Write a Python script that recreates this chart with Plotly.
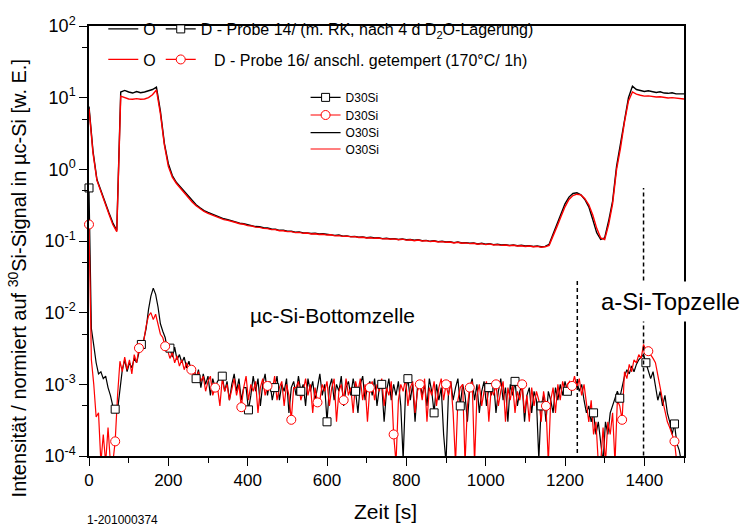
import plotly.graph_objects as go

# SIMS depth profiles: time axis (s)
t_o = list(range(0, 1501, 10))
t_d = list(range(0, 1501, 6))

# O30Si signal, Probe 14 (black) and Probe 16 (red)
o_black = [
    7.5, 1.8, 0.72, 0.5, 0.34, 0.25, 0.18, 0.14, 12.0, 12.6,
    12.0, 11.6, 12.2, 11.7, 12.0, 12.4, 13.0, 14.0, 6.5, 2.3,
    1.2, 0.82, 0.66, 0.57, 0.49, 0.42, 0.36, 0.32, 0.29, 0.265,
    0.25, 0.237, 0.224, 0.216, 0.204, 0.199, 0.19, 0.185, 0.177, 0.174,
    0.168, 0.165, 0.159, 0.158, 0.153, 0.152, 0.147, 0.146, 0.141, 0.141,
    0.137, 0.137, 0.133, 0.134, 0.13, 0.13, 0.127, 0.128, 0.125, 0.126,
    0.123, 0.123, 0.12, 0.121, 0.117, 0.118, 0.115, 0.116, 0.113, 0.114,
    0.111, 0.113, 0.11, 0.111, 0.108, 0.109, 0.107, 0.108, 0.105, 0.107,
    0.104, 0.105, 0.103, 0.104, 0.101, 0.102, 0.099, 0.101, 0.098, 0.099,
    0.097, 0.098, 0.095, 0.097, 0.094, 0.095, 0.093, 0.094, 0.091, 0.093,
    0.09, 0.092, 0.089, 0.09, 0.088, 0.089, 0.087, 0.088, 0.086, 0.087,
    0.085, 0.086, 0.084, 0.085, 0.083, 0.084, 0.09, 0.125, 0.17, 0.24,
    0.33, 0.41, 0.46, 0.47, 0.44, 0.38, 0.3, 0.2, 0.13, 0.105,
    0.11, 0.19, 0.36, 1.1, 2.2, 5.0, 10.0, 14.5, 13.0, 12.6,
    12.2, 12.5, 12.0, 11.8, 12.1, 11.6, 11.5, 11.7, 11.3, 11.4,
    11.3,
]
o_red = [
    7.0, 1.7, 0.7, 0.48, 0.33, 0.24, 0.17, 0.135, 10.5, 10.0,
    9.6, 9.5, 9.7, 9.5, 9.6, 10.0, 11.0, 12.8, 6.0, 2.2,
    1.1, 0.78, 0.64, 0.55, 0.47, 0.4, 0.35, 0.31, 0.28, 0.258,
    0.243, 0.231, 0.219, 0.211, 0.199, 0.194, 0.185, 0.181, 0.174, 0.171,
    0.164, 0.162, 0.156, 0.155, 0.15, 0.149, 0.144, 0.144, 0.139, 0.139,
    0.135, 0.135, 0.131, 0.132, 0.128, 0.129, 0.125, 0.126, 0.123, 0.124,
    0.121, 0.122, 0.118, 0.119, 0.116, 0.117, 0.114, 0.115, 0.112, 0.113,
    0.11, 0.111, 0.109, 0.11, 0.107, 0.108, 0.106, 0.107, 0.104, 0.106,
    0.103, 0.104, 0.101, 0.103, 0.1, 0.101, 0.098, 0.1, 0.097, 0.098,
    0.096, 0.097, 0.094, 0.096, 0.093, 0.094, 0.092, 0.093, 0.09, 0.092,
    0.089, 0.091, 0.088, 0.089, 0.087, 0.088, 0.086, 0.087, 0.085, 0.086,
    0.084, 0.085, 0.083, 0.084, 0.082, 0.083, 0.087, 0.115, 0.16, 0.22,
    0.3, 0.38, 0.43, 0.45, 0.44, 0.39, 0.32, 0.23, 0.15, 0.11,
    0.105, 0.17, 0.33, 1.0, 2.0, 4.6, 9.0, 12.0, 11.2, 10.8,
    10.5, 10.6, 10.3, 10.2, 10.3, 10.0, 9.9, 10.0, 9.8, 9.7,
    9.6,
]

# D30Si signal, Probe 14 (black) and Probe 16 (red)
d_black = [
    0.55, 6e-3, 3.5e-3, 2.0e-3, 1.4e-3, 1.5e-3, 1.2e-3, 1.3e-3, 9e-4, 7e-4,
    5e-4, 4.5e-4, 4.4e-4, 9e-4, 1.6e-3, 2.2e-3, 1.5e-3, 2.0e-3, 1.7e-3, 2.3e-3,
    2.0e-3, 2.8e-3, 3.6e-3, 4.2e-3, 6e-3, 1.1e-2, 1.7e-2, 2.2e-2, 1.8e-2, 1.2e-2,
    7e-3, 5.5e-3, 4.5e-3, 3.0e-3, 3.2e-3, 2.4e-3, 3.3e-3, 2.2e-3, 2.6e-3, 2.0e-3,
    2.4e-3, 1.7e-3, 2.1e-3, 1.5e-3, 1.8e-3, 1.2e-3, 1.6e-3, 9e-4, 1.4e-3, 1.0e-3,
    1.3e-3, 7e-4, 1.2e-3, 9e-4, 1.1e-3, 1.2e-3, 1.3e-3, 8e-4, 1.1e-3, 6e-4,
    1.0e-3, 1.4e-3, 8e-4, 1.2e-3, 6e-4, 9e-4, 9e-4, 4.4e-4, 7e-4, 1.3e-3,
    8e-4, 1.2e-3, 5e-4, 1.0e-3, 1.4e-3, 7e-4, 1.1e-3, 6e-4, 9e-4, 1.3e-3,
    6e-4, 1.0e-3, 8e-4, 1.2e-3, 4e-4, 9e-4, 1.1e-3, 7e-4, 1.3e-3, 8e-4,
    1.0e-3, 5e-4, 1.2e-3, 8e-4, 1.1e-3, 6e-4, 9e-4, 1.4e-3, 7e-4, 1.0e-3,
    3e-4, 9e-4, 1.2e-3, 6e-4, 1.0e-3, 8e-4, 1.3e-3, 5e-4, 9e-4, 1.1e-3,
    7e-4, 1.2e-3, 8e-4, 4e-4, 1.0e-3, 1.3e-3, 6e-4, 9e-4, 1.1e-3, 7e-4,
    1.2e-3, 5e-4, 9e-4, 1.0e-3, 3e-4, 8e-4, 1.2e-3, 6e-4, 1.0e-3, 7e-4,
    1.1e-3, 5e-4, 9e-5, 8e-4, 1.2e-3, 6e-4, 1.0e-3, 3e-4, 9e-4, 1.1e-3,
    7e-4, 1.0e-3, 5e-4, 1.2e-3, 8e-4, 4e-4, 1.0e-3, 6e-4, 9e-4, 2e-4,
    8e-5, 7e-4, 1.1e-3, 6e-4, 9e-4, 1.2e-3, 5e-4, 1.0e-3, 7e-4, 3e-4,
    9e-4, 1.2e-3, 6e-4, 1.0e-3, 4e-4, 8e-4, 1.1e-3, 5e-4, 9e-4, 7e-4,
    1.1e-3, 4e-4, 8e-4, 1.2e-3, 6e-4, 9e-4, 3e-4, 1.0e-3, 7e-4, 1.1e-3,
    5e-4, 8e-4, 1.0e-3, 3e-4, 7e-4, 9e-4, 4e-4, 8e-4, 6e-4, 9e-5,
    5e-4, 7e-4, 3e-4, 8e-4, 6e-4, 4e-4, 9e-4, 6e-4, 1.0e-3, 7e-4,
    1.1e-3, 8e-4, 8.5e-4, 1.0e-3, 9e-4, 1.1e-3, 8e-4, 1.0e-3, 6e-4, 4e-4,
    5e-4, 3e-4, 4e-4, 2e-4, 3e-4, 1.5e-4, 8e-5, 3e-4, 2e-4, 4e-4,
    5e-4, 6e-4, 8e-4, 6.4e-4, 9e-4, 1.3e-3, 1.6e-3, 1.4e-3, 1.8e-3, 1.5e-3,
    1.9e-3, 2.2e-3, 2.4e-3, 2.6e-3, 2.0e-3, 1.5e-3, 1.2e-3, 1.5e-3, 9e-4, 6e-4,
    8e-4, 5e-4, 7e-4, 4e-4, 3e-4, 2e-4, 2.8e-4, 1.5e-4, 1.2e-4, 8e-5,
    1e-4,
]
d_red = [
    0.17, 2.2e-3, 1.0e-3, 3.5e-4, 4e-4, 8e-5, 2e-4, 8e-5, 2.5e-4, 8e-5,
    8e-5, 1.6e-4, 7e-4, 2.1e-3, 1.5e-3, 2.4e-3, 1.6e-3, 2.2e-3, 1.4e-3, 2.6e-3,
    2.0e-3, 3.2e-3, 3.3e-3, 4.0e-3, 6.5e-3, 9e-3, 1.0e-2, 8e-3, 9.5e-3, 7e-3,
    5e-3, 4.5e-3, 3.4e-3, 3.0e-3, 2.3e-3, 2.8e-3, 2.0e-3, 2.5e-3, 1.8e-3, 2.2e-3,
    1.6e-3, 2.0e-3, 1.5e-3, 1.6e-3, 1.7e-3, 1.2e-3, 1.5e-3, 1.1e-3, 1.3e-3, 8e-4,
    1.1e-3, 1.3e-3, 7e-4, 9e-4, 9e-4, 5e-4, 1.2e-3, 8e-4, 1.0e-3, 6e-4,
    9e-4, 1.2e-3, 7e-4, 1.0e-3, 4.8e-4, 9e-4, 1.3e-3, 6e-4, 1.0e-3, 8e-4,
    1.1e-3, 4e-4, 9e-4, 1.2e-3, 7e-4, 9.5e-4, 1.0e-3, 8e-4, 1.3e-3, 6e-4,
    9e-4, 1.1e-3, 5e-4, 1.0e-3, 7e-4, 3.2e-4, 9e-4, 9e-4, 1.1e-3, 6e-4,
    8e-4, 1.2e-3, 7e-4, 1.0e-3, 4e-4, 9e-4, 5.6e-4, 6e-4, 1.0e-3, 8e-4,
    1.1e-3, 5e-4, 9e-4, 1.2e-3, 3e-4, 8e-4, 1.0e-3, 6e-4, 1.2e-3, 7e-4,
    9e-4, 4e-4, 1.1e-3, 8e-4, 1.2e-3, 6e-4, 1.0e-3, 3e-4, 9e-4, 1.1e-3,
    6e-4, 1.0e-3, 8e-4, 1.2e-3, 5e-4, 9e-4, 7e-4, 1.1e-3, 2e-4, 8e-5,
    6e-4, 1.0e-3, 8e-4, 1.2e-3, 5e-4, 9e-4, 1.1e-3, 4e-4, 8e-4, 1.0e-3,
    6e-4, 1.2e-3, 3e-4, 9e-4, 7e-4, 1.1e-3, 5e-4, 9e-4, 1.2e-3, 6e-4,
    1.0e-3, 7e-4, 1.1e-3, 4e-4, 8e-5, 6e-4, 9e-4, 1.0e-3, 8e-5, 5e-4,
    9e-4, 1.1e-3, 8e-5, 7e-4, 1.0e-3, 5e-4, 8e-4, 1.1e-3, 3e-4, 9e-4,
    7e-4, 1.0e-3, 5e-4, 8e-4, 1.1e-3, 3e-4, 9e-4, 6e-4, 1.0e-3, 4e-4,
    8e-4, 6e-4, 1.0e-3, 4e-4, 7e-4, 3e-4, 9e-4, 5e-4, 8e-4, 6e-4,
    3e-4, 8e-4, 5e-4, 8e-5, 6e-4, 9e-4, 4e-4, 1.0e-3, 6e-4, 1.1e-3,
    8e-4, 1.0e-3, 1.1e-3, 9.5e-4, 1.3e-3, 9e-4, 1.2e-3, 7e-4, 1.0e-3, 5e-4,
    3e-4, 6e-4, 2e-4, 3e-4, 8e-5, 8e-5, 2.5e-4, 8e-5, 3e-4, 2e-4,
    4e-4, 8e-5, 6e-4, 5e-4, 3.2e-4, 1.5e-3, 1.2e-3, 1.9e-3, 1.5e-3, 2.2e-3,
    2.0e-3, 2.6e-3, 2.3e-3, 3.6e-3, 3.0e-3, 2.9e-3, 2.6e-3, 2.3e-3, 2.0e-3, 1.4e-3,
    9e-4, 6e-4, 4.2e-4, 3e-4, 2.5e-4, 2e-4, 1.6e-4, 8e-5, 8e-5, 8e-5,
    8e-5,
]

# Symbol spacing along the D curves (s)
square_step = 67.0
circle_step = 64.1

y_tickvals = [1e-4, 1e-3, 1e-2, 1e-1, 1, 10, 100]
y_ticktext = ["10<sup>-4</sup>", "10<sup>-3</sup>", "10<sup>-2</sup>", "10<sup>-1</sup>",
              "10<sup>0</sup>", "10<sup>1</sup>", "10<sup>2</sup>"]
y_minor = [5e-4, 5e-3, 5e-2, 0.5, 5, 50]

# layer boundaries: time (s) and vertical extent of the guide lines
boundary_bottom = 1231
boundary_bottom_y = [1.1e-4, 3.0e-2]
boundary_top = 1398
boundary_top_y = [1.02e-4, 0.55]

BLACK = "#000000"
RED = "#ff0000"
FONT = "Liberation Sans, Arial, sans-serif"

dt = t_d[1] - t_d[0]
sq_idx = [round(k * square_step / dt) for k in range(int(1500 / square_step) + 1)]
ci_idx = [round(k * circle_step / dt) for k in range(int(1500 / circle_step) + 1)]
sq_idx = [i for i in sq_idx if i < len(d_black) and d_black[i] >= 1e-4]
ci_idx = [i for i in ci_idx if i < len(d_red) and d_red[i] >= 1e-4]

fig = go.Figure()

# profile curves
fig.add_trace(go.Scatter(x=t_o, y=o_black, mode="lines", line=dict(color=BLACK, width=1.4), showlegend=False))
fig.add_trace(go.Scatter(x=t_o, y=o_red, mode="lines", line=dict(color=RED, width=1.4), showlegend=False))
fig.add_trace(go.Scatter(x=t_d, y=d_black, mode="lines", line=dict(color=BLACK, width=1.2), showlegend=False))
fig.add_trace(go.Scatter(x=t_d, y=d_red, mode="lines", line=dict(color=RED, width=1.2), showlegend=False))

# open symbols on the D curves
sq_marker = dict(symbol="square", size=8, color="white", line=dict(color=BLACK, width=1))
ci_marker = dict(symbol="circle", size=9, color="white", line=dict(color=RED, width=1))
fig.add_trace(go.Scatter(
    x=[t_d[i] for i in sq_idx], y=[d_black[i] for i in sq_idx], mode="markers",
    marker=sq_marker, cliponaxis=False, showlegend=False))
fig.add_trace(go.Scatter(
    x=[t_d[i] for i in ci_idx], y=[d_red[i] for i in ci_idx], mode="markers",
    marker=ci_marker, cliponaxis=False, showlegend=False))

# legend entries (sample header rows, and the series key with one row per legend)
legend_items = [
    ("O", "lines", BLACK, None, "legend"),
    ("D - Probe 14/ (m. RK, nach 4 d D<sub>2</sub>O-Lagerung)", "lines+markers", BLACK, sq_marker, "legend"),
    ("O", "lines", RED, None, "legend2"),
    ("\u00a0\u00a0\u00a0D - Probe 16/ anschl. getempert (170°C/ 1h)", "lines+markers", RED, ci_marker, "legend2"),
    ("D30Si", "lines+markers", BLACK, sq_marker, "legend3"),
    ("D30Si", "lines+markers", RED, ci_marker, "legend4"),
    ("O30Si", "lines", BLACK, None, "legend5"),
    ("O30Si", "lines", RED, None, "legend6"),
]
for name, mode, color, marker, leg in legend_items:
    kw = dict(marker=marker) if marker else {}
    fig.add_trace(go.Scatter(x=[None], y=[None], mode=mode, name=name,
                             line=dict(color=color, width=1.2), legend=leg, **kw))

header_legend = dict(xanchor="left", yanchor="middle", orientation="h",
                     font=dict(size=16, family=FONT), bgcolor="rgba(0,0,0,0)")
key_legend = dict(xanchor="left", yanchor="middle", orientation="v",
                  font=dict(size=12, family=FONT), bgcolor="rgba(0,0,0,0)")

fig.update_layout(
    width=749, height=528,
    margin=dict(l=89, r=65, t=18, b=72),
    plot_bgcolor="white", paper_bgcolor="white",
    font=dict(family=FONT, color=BLACK),
    xaxis=dict(
        range=[0, 1500], tick0=0, dtick=200, ticks="outside", ticklen=8, tickwidth=1.3,
        tickcolor=BLACK, showline=True, linewidth=1.5, linecolor=BLACK, mirror=True,
        showgrid=False, zeroline=False, tickfont=dict(size=17, family=FONT),
        minor=dict(dtick=100, tick0=0, ticks="outside", ticklen=5, tickwidth=1.3, tickcolor=BLACK),
    ),
    yaxis=dict(
        type="log", range=[-4, 2], tickmode="array", tickvals=y_tickvals, ticktext=y_ticktext,
        ticks="outside", ticklen=8, tickwidth=1.3, tickcolor=BLACK,
        showline=True, linewidth=1.5, linecolor=BLACK, mirror=True,
        showgrid=False, zeroline=False, tickfont=dict(size=18, family=FONT),
        minor=dict(tickmode="array", tickvals=y_minor, ticks="outside", ticklen=5,
                   tickwidth=1.3, tickcolor=BLACK),
    ),
    legend=dict(x=0.024, y=0.993, **header_legend),
    legend2=dict(x=0.024, y=0.922, **header_legend),
    legend3=dict(x=0.364, y=0.834, **key_legend),
    legend4=dict(x=0.364, y=0.793, **key_legend),
    legend5=dict(x=0.364, y=0.752, **key_legend),
    legend6=dict(x=0.364, y=0.714, **key_legend),
    shapes=[
        dict(type="line", xref="x", yref="y", x0=boundary_bottom, x1=boundary_bottom,
             y0=boundary_bottom_y[0], y1=boundary_bottom_y[1],
             line=dict(color=BLACK, width=1.5, dash="4px,3px")),
        dict(type="line", xref="x", yref="y", x0=boundary_top, x1=boundary_top,
             y0=boundary_top_y[0], y1=boundary_top_y[1],
             line=dict(color=BLACK, width=1.5, dash="4px,3px")),
    ],
    annotations=[
        dict(text="µc-Si-Bottomzelle", x=614, y=-2.04, xref="x", yref="y", showarrow=False,
             font=dict(size=21, family=FONT)),
        dict(text="a-Si-Topzelle", x=1466, y=-1.85, xref="x", yref="y", showarrow=False,
             font=dict(size=24, family=FONT), bgcolor="white", borderpad=6),
        dict(text="Zeit [s]", x=0.499, y=-0.128, xref="paper", yref="paper", showarrow=False,
             xanchor="center", yanchor="middle", font=dict(size=21, family=FONT)),
        dict(text="1-201000374", x=-0.007, y=-0.148, xref="paper", yref="paper", showarrow=False,
             xanchor="left", yanchor="middle", font=dict(size=12, family=FONT)),
        dict(text="Intensität / normiert auf <sup>30</sup>Si-Signal in µc-Si [w. E.]",
             x=-0.121, y=0.413, xref="paper", yref="paper", showarrow=False, textangle=-90,
             xanchor="center", yanchor="middle", font=dict(size=20, family=FONT)),
    ],
)

fig.write_html("out.html")
